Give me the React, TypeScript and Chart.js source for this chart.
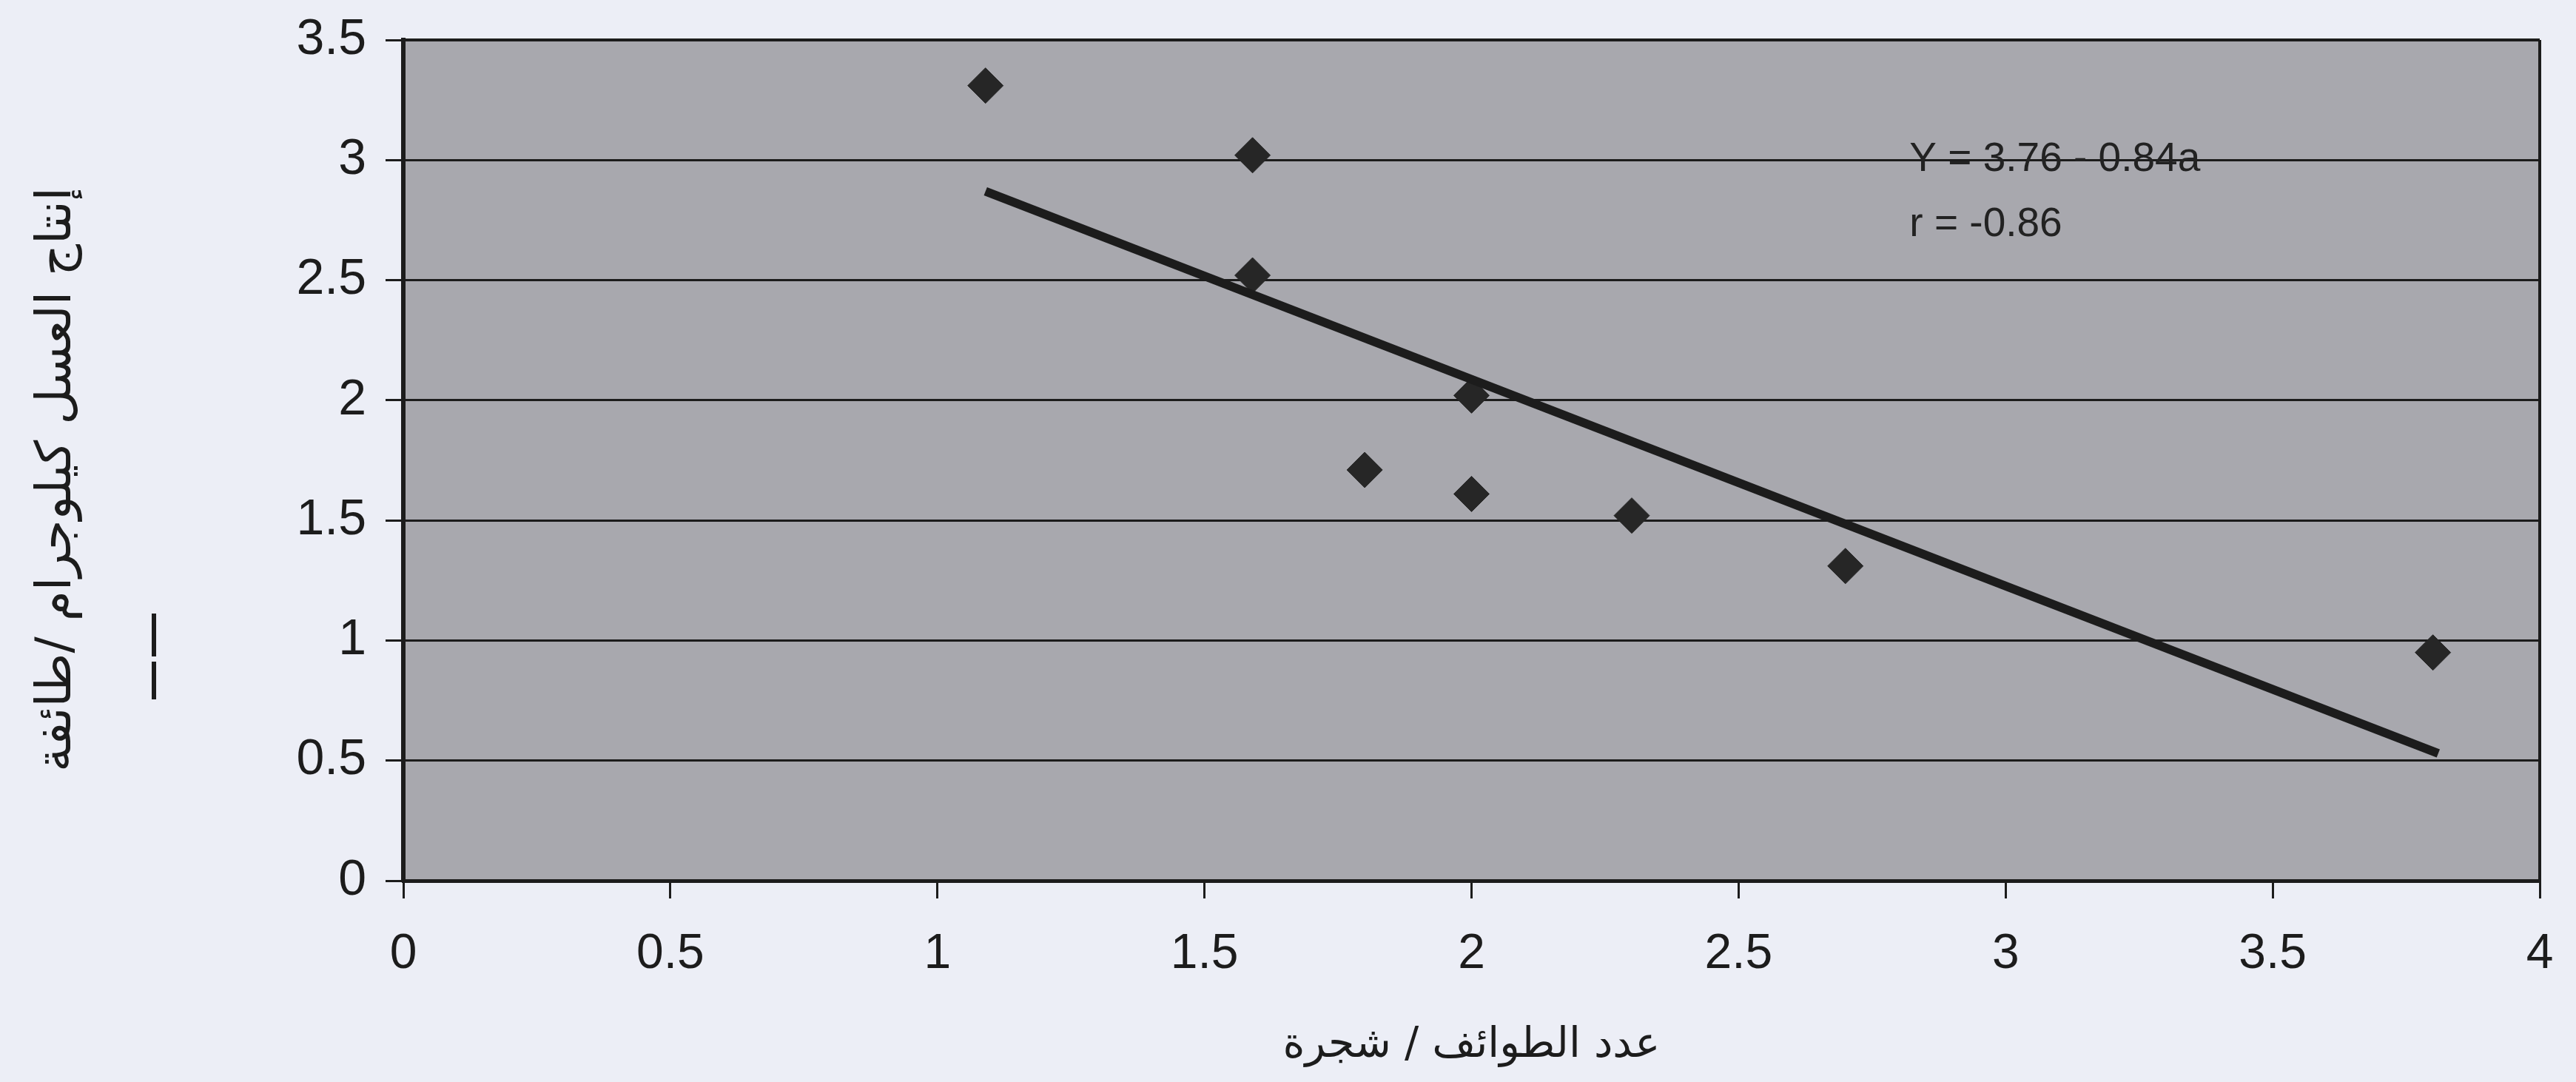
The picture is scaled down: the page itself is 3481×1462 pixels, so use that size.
import React, { useEffect, useRef } from "react";
import { Chart, registerables } from "chart.js";

Chart.register(...registerables);

// ---- data ----
const pointX = [1.09, 1.59, 1.59, 2.0, 1.8, 2.0, 2.3, 2.7, 3.8];
const pointY = [3.31, 3.02, 2.52, 2.02, 1.71, 1.61, 1.52, 1.31, 0.95];
const trendX = [1.09, 3.81];
const trendY = [2.87, 0.53];
const xTickValues = [0, 0.5, 1, 1.5, 2, 2.5, 3, 3.5, 4];
const xTickLabels = ["0", "0.5", "1", "1.5", "2", "2.5", "3", "3.5", "4"];
const yTickValues = [0, 0.5, 1, 1.5, 2, 2.5, 3, 3.5];
const yTickLabels = ["0", "0.5", "1", "1.5", "2", "2.5", "3", "3.5"];
const xTitle = "عدد الطوائف / شجرة";
const yTitle = "إنتاج العسل كيلوجرام /طائفة";
const equationLines = ["Y = 3.76 - 0.84a", "r = -0.86"];
const equationAnchorX = 2.82;
const equationAnchorY = [3.0, 2.73];

// ---- style ----
const PAPER = "#eceef6";
const PLOT = "#a8a8ae";
const INK = "#1c1c1c";
const LATIN = "'Liberation Sans', Arial, sans-serif";
const ARABIC = "'DejaVu Sans', sans-serif";

function fitFont(ctx: CanvasRenderingContext2D, text: string, family: string, target: number) {
  ctx.font = `100px ${family}`;
  const w = ctx.measureText(text).width;
  return (100 * target) / w;
}

const decor = {
  id: "decor",
  beforeDraw(chart: any) {
    const { ctx, chartArea: a, width, height } = chart;
    ctx.save();
    ctx.fillStyle = PAPER;
    ctx.fillRect(0, 0, width, height);
    ctx.fillStyle = PLOT;
    ctx.fillRect(a.left, a.top, a.right - a.left, a.bottom - a.top);
    ctx.restore();
  },
  afterDraw(chart: any) {
    const { ctx, chartArea: a } = chart;
    const xs = chart.scales.x;
    const ys = chart.scales.y;
    ctx.save();
    // right and top border
    ctx.strokeStyle = INK;
    ctx.lineWidth = 4;
    ctx.beginPath();
    ctx.moveTo(a.right, a.top);
    ctx.lineTo(a.right, a.bottom);
    ctx.moveTo(a.left, a.top);
    ctx.lineTo(a.right, a.top);
    ctx.stroke();

    // equation text
    ctx.fillStyle = "#222";
    ctx.font = `55px ${LATIN}`;
    ctx.textAlign = "left";
    ctx.textBaseline = "middle";
    equationLines.forEach((t, i) => {
      ctx.fillText(t, xs.getPixelForValue(equationAnchorX), ys.getPixelForValue(equationAnchorY[i]));
    });

    // x title
    const xs2 = fitFont(ctx, xTitle, ARABIC, 510);
    ctx.font = `${xs2}px ${ARABIC}`;
    ctx.textAlign = "center";
    ctx.textBaseline = "middle";
    ctx.fillStyle = INK;
    ctx.direction = "rtl";
    ctx.fillText(xTitle, (a.left + a.right) / 2, 1405);

    // y title
    const ys2 = fitFont(ctx, yTitle, ARABIC, 790);
    ctx.font = `${ys2}px ${ARABIC}`;
    ctx.translate(70, 640);
    ctx.rotate(-Math.PI / 2);
    ctx.fillText(yTitle, 0, 0);
    ctx.setTransform(1, 0, 0, 1, 0, 0);
    ctx.restore();

    // small dash mark
    ctx.save();
    ctx.strokeStyle = INK;
    ctx.lineWidth = 6;
    ctx.beginPath();
    ctx.moveTo(200, 821);
    ctx.lineTo(200, 879);
    ctx.moveTo(200, 886);
    ctx.lineTo(200, 937);
    ctx.stroke();
    ctx.restore();
  },
};

export default function App() {
  const ref = useRef<HTMLCanvasElement | null>(null);
  useEffect(() => {
    document.body.style.background = PAPER;
    const canvas = ref.current!;
    const chart = new Chart(canvas, {
      type: "scatter",
      data: {
        datasets: [
          {
            type: "line",
            label: "trend",
            data: trendX.map((x, i) => ({ x, y: trendY[i] })),
            borderColor: INK,
            borderWidth: 12,
            pointRadius: 0,
            fill: false,
            tension: 0,
          } as any,
          {
            type: "scatter",
            label: "points",
            data: pointX.map((x, i) => ({ x, y: pointY[i] })),
            pointStyle: "rectRot",
            pointRadius: 24,
            backgroundColor: "#262626",
            borderColor: "#262626",
            borderWidth: 1,
          },
        ],
      },
      options: {
        animation: false,
        responsive: true,
        maintainAspectRatio: false,
        layout: { padding: { top: 46, right: 41, left: 0, bottom: 0 } },
        plugins: { legend: { display: false }, tooltip: { enabled: false } },
        scales: {
          x: {
            type: "linear",
            min: 0,
            max: 4,
            afterBuildTicks: (s: any) => {
              s.ticks = xTickValues.map((v) => ({ value: v }));
            },
            afterFit: (s: any) => {
              s.height = 264;
              s.paddingLeft = 0;
              s.paddingRight = 0;
            },
            grid: { drawOnChartArea: false, drawTicks: true, tickLength: 24, color: INK, lineWidth: 3 },
            border: { display: true, color: INK, width: 5 },
            ticks: {
              color: INK,
              font: { family: LATIN, size: 66 },
              padding: 36,
              maxRotation: 0,
              callback: (v: any) => xTickLabels[xTickValues.indexOf(Number(v))] ?? String(v),
            },
          },
          y: {
            type: "linear",
            min: 0,
            max: 3.5,
            afterBuildTicks: (s: any) => {
              s.ticks = yTickValues.map((v) => ({ value: v }));
            },
            afterFit: (s: any) => {
              s.width = 537;
              s.paddingTop = 0;
              s.paddingBottom = 0;
            },
            grid: { drawOnChartArea: true, drawTicks: true, tickLength: 24, color: INK, lineWidth: 3 },
            border: { display: true, color: INK, width: 6 },
            ticks: {
              color: INK,
              font: { family: LATIN, size: 68 },
              padding: 26,
              callback: (v: any) => yTickLabels[yTickValues.indexOf(Number(v))] ?? String(v),
            },
          },
        },
      },
      plugins: [decor],
    });
    return () => chart.destroy();
  }, []);
  return (
    <div style={{ width: 3465, height: 1446, position: "relative" }}>
      <canvas ref={ref} />
    </div>
  );
}
